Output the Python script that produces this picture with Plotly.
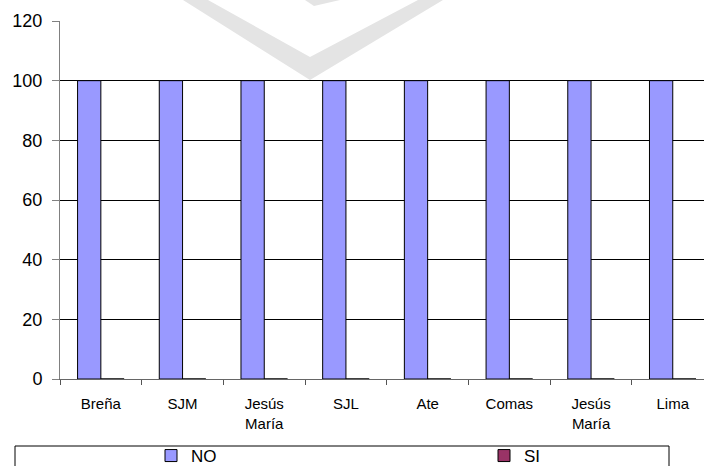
import plotly.graph_objects as go

# District labels (zero-width space keeps the two "Jesús María" entries distinct)
categories = ["Breña", "SJM", "Jesús<br>María", "SJL", "Ate", "Comas",
              "Jesús<br>María\u200b", "Lima"]
no_values = [100, 100, 100, 100, 100, 100, 100, 100]
si_values = [0, 0, 0, 0, 0, 0, 0, 0]
y_ticks = [0, 20, 40, 60, 80, 100, 120]

W, H = 704, 466
L, R, T, B = 60, 0, 21, 87
PW, PH = W - L - R, H - T - B
FONT = "Liberation Sans, Arial, sans-serif"


def px(x):
    """Pixel column -> paper x."""
    return (x - L) / PW


def py(y):
    """Pixel row -> paper y."""
    return (H - B - y) / PH


fig = go.Figure()
fig.add_trace(go.Bar(name="NO", x=categories, y=no_values, legendwidth=288,
                     marker=dict(color="#9999FF", line=dict(color="#000000", width=1))))
fig.add_trace(go.Bar(name="SI", x=categories, y=si_values,
                     marker=dict(color="#993366", line=dict(color="#000000", width=1))))

# legend frame
shapes = [dict(type="rect", xref="paper", yref="paper",
               x0=px(15), x1=px(669), y0=py(446), y1=py(490),
               line=dict(color="#000000", width=1), fillcolor="rgba(0,0,0,0)")]

# faint background emblem
def path(points):
    return "M " + " L ".join(f"{px(a):.5f},{py(b):.5f}" for a, b in points) + " Z"

emblem = "#e4e4e4"
shapes.append(dict(type="path", xref="paper", yref="paper", layer="below",
                   path=path([(183, 0), (310, 80), (443, 0), (418, 0), (310, 57), (208, 0)]),
                   fillcolor=emblem, line=dict(width=0)))
shapes.append(dict(type="path", xref="paper", yref="paper", layer="below",
                   path=path([(305, 0), (314, 6), (340, 0)]),
                   fillcolor=emblem, line=dict(width=0)))

fig.update_layout(
    width=W, height=H,
    margin=dict(l=L, r=R, t=T, b=B, pad=0, autoexpand=False),
    paper_bgcolor="#ffffff", plot_bgcolor="#ffffff",
    barmode="group", bargap=0.43, bargroupgap=0,
    font=dict(family=FONT, color="#000000"),
    showlegend=True,
    legend=dict(orientation="h", x=px(151), xanchor="left",
                y=py(456), yanchor="middle",
                font=dict(size=17, family=FONT, color="#000000"),
                bgcolor="rgba(0,0,0,0)", borderwidth=0,
                itemclick=False, itemdoubleclick=False),
    shapes=shapes,
)

fig.update_xaxes(
    type="category", range=[-0.5, -0.5 + PW / 81.7],
    tickson="boundaries", ticks="outside", ticklen=5, tickcolor="#555555",
    showline=True, linecolor="#666666", linewidth=1,
    showgrid=False, zeroline=False,
    tickfont=dict(size=15, family=FONT, color="#000000"),
    ticklabelstandoff=11, tickangle=0,
)
fig.update_yaxes(
    range=[0, 120], tickvals=y_ticks, ticks="outside", ticklen=7, tickcolor="#808080",
    showline=True, linecolor="#808080", linewidth=1,
    showgrid=True, gridcolor="#000000", gridwidth=1, zeroline=False,
    tickfont=dict(size=18, family=FONT, color="#000000"),
    ticklabelstandoff=6,
)

fig.write_html("out.html", config={"displayModeBar": False})
